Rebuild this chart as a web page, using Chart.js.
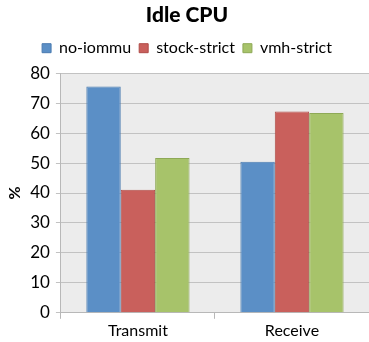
<!DOCTYPE html>
<html>
<head>
<meta charset="utf-8">
<script src="https://cdn.jsdelivr.net/npm/chart.js@4/dist/chart.umd.min.js"></script>
<style>
  html, body { margin: 0; padding: 0; background: #fff; }
  #wrap { width: 369px; height: 342px; }
</style>
</head>
<body>
<div id="wrap"><canvas id="c"></canvas></div>
<script>
const categories = ['Transmit', 'Receive'];
const seriesNames = ['no-iommu', 'stock-strict', 'vmh-strict'];
const noIommu = [75.6, 50.4];
const stockStrict = [41.1, 67.2];
const vmhStrict = [51.7, 66.7];
const yTicks = [0, 10, 20, 30, 40, 50, 60, 70, 80];

const fills = ['#5b8fc6', '#c9605c', '#a7c36a'];
const edges = ['#4a7bb0', '#b04c48', '#8ea956'];

// light grey panel behind the plot area
const plotBg = {
  id: 'plotBg',
  beforeDraw(chart) {
    const a = chart.chartArea, ctx = chart.ctx;
    ctx.save();
    ctx.fillStyle = '#ececec';
    ctx.fillRect(a.left, a.top, a.right - a.left, a.bottom - a.top);
    ctx.restore();
  }
};

// extra room between the legend and the plot
const legendGap = {
  id: 'legendGap',
  beforeInit(chart) {
    const fit = chart.legend.fit;
    chart.legend.fit = function () {
      fit.call(this);
      this.height += 7;
    };
  }
};

const font = "Lato, 'Open Sans', sans-serif";

new Chart(document.getElementById('c'), {
  type: 'bar',
  data: {
    labels: categories,
    datasets: [noIommu, stockStrict, vmhStrict].map((d, i) => ({
      label: seriesNames[i],
      data: d,
      backgroundColor: fills[i],
      borderColor: edges[i],
      borderWidth: 1,
      categoryPercentage: 0.67,
      barPercentage: 1.0
    }))
  },
  options: {
    responsive: true,
    maintainAspectRatio: false,
    animation: false,
    layout: { padding: { left: 5, right: 0, top: 0, bottom: 0 } },
    plugins: {
      title: {
        display: true,
        text: 'Idle CPU',
        color: '#000',
        font: { family: font, size: 21, weight: '900' },
        padding: { top: 3, bottom: 4 }
      },
      legend: {
        position: 'top',
        labels: {
          color: '#000',
          font: { family: font, size: 16 },
          boxWidth: 9,
          boxHeight: 9,
          padding: 8
        }
      },
      tooltip: { enabled: false }
    },
    scales: {
      x: {
        grid: {
          offset: true,
          drawOnChartArea: false,
          drawTicks: true,
          tickLength: 6,
          color: '#b8b8b8'
        },
        border: { color: '#b8b8b8', width: 1 },
        ticks: { color: '#000', font: { family: font, size: 16 }, padding: 2 }
      },
      y: {
        min: 0,
        max: 80,
        afterBuildTicks(axis) { axis.ticks = yTicks.map(v => ({ value: v })); },
        grid: { color: '#c2c2c2', lineWidth: 1, tickLength: 5 },
        border: { color: '#b8b8b8', width: 1 },
        ticks: { color: '#000', font: { family: font, size: 17 }, padding: 6 },
        title: {
          display: true,
          text: '%',
          color: '#000',
          font: { family: font, size: 16, weight: 'bold' },
          padding: { top: 0, bottom: 0 }
        }
      }
    }
  },
  plugins: [plotBg, legendGap]
});
</script>
</body>
</html>
